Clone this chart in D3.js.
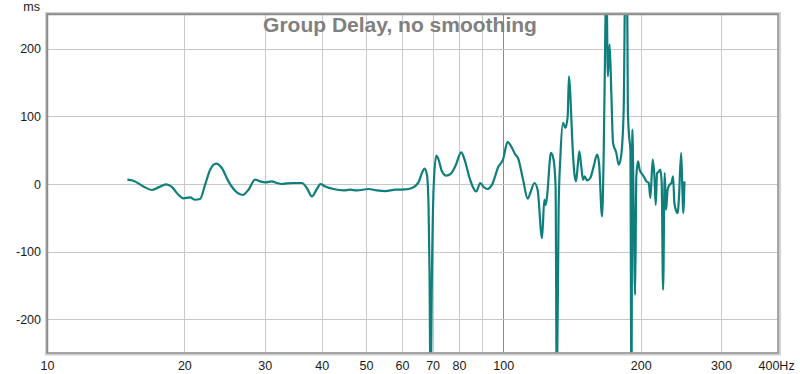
<!DOCTYPE html>
<html>
<head>
    <meta charset="utf-8">
    <title>Group Delay</title>
    <script src="https://d3js.org/d3.v7.min.js"></script>
    <style>
        body { margin: 0; background: #fff; }
        svg text { font-family: "Liberation Sans", Arial, sans-serif; }
        .axis text { font-size: 12.5px; fill: #1a1a1a; }
        .grid line { stroke: #c8c8c8; stroke-width: 1; }
    </style>
</head>
<body>
    <script>
        // frequency (Hz) and group delay (ms)
        var freqHz = [
            15.0, 15.46, 16.26, 16.97, 17.54, 18.24, 18.77, 19.41, 19.90, 20.59,
            21.11, 21.65, 22.21, 22.78, 23.48, 24.16, 24.98, 26.07, 26.87, 27.64,
            28.58, 29.31, 30.06, 31.10, 31.90, 32.71, 33.55, 34.68, 36.19, 37.11,
            38.06, 39.03, 39.76, 40.71, 42.45, 44.65, 46.18, 47.79, 50.65, 52.85,
            55.11, 57.96, 60.97, 63.06, 65.20, 66.33, 67.21, 68.03, 68.58, 68.93,
            69.27, 69.77, 70.33, 71.30, 72.13, 73.37, 74.99, 76.79, 78.48, 80.89,
            82.25, 84.35, 87.26, 89.04, 90.54, 92.37, 94.46, 97.65, 99.85, 102.2,
            104.5, 106.3, 107.7, 110.5, 113.1, 114.6, 117.0, 118.9, 121.6, 123.0,
            123.8, 124.7, 127.2, 128.9, 130.2, 131.0, 132.2, 133.4, 135.2, 136.8,
            138.4, 139.3, 140.3, 141.5, 143.1, 144.3, 145.8, 146.8, 148.2, 149.5,
            150.8, 152.6, 155.1, 157.8, 160.5, 162.1, 164.6, 165.9, 167.4, 168.2,
            169.5, 171.0, 172.5, 174.0, 176.9, 179.0, 181.2, 183.6, 185.2, 186.7,
            187.5, 188.7, 189.9, 190.9, 191.8, 193.1, 194.5, 195.7, 197.4, 199.0,
            200.7, 203.1, 205.9, 208.3, 210.1, 212.5, 214.4, 215.8, 217.3, 219.0,
            220.9, 222.4, 224.0, 225.8, 227.4, 229.2, 231.6, 233.6, 235.6, 237.1,
            239.6, 241.2, 242.4, 245.4, 247.0, 247.9, 249.5
        ];
        var delayMs = [
            6.4, 4.9, -3.6, -8.9, -5.0, -0.6, -4.4, -15.9, -21.3, -19.9,
            -23.3, -22.2, -1.0, 21.2, 30.1, 23.7, 3.9, -12.4, -16.3, -8.4,
            6.4, 3.9, 2.4, 3.9, 1.5, 0.0, 0.9, 1.5, 1.5, -5.9,
            -18.4, -7.4, -0.3, -3.6, -7.4, -9.5, -8.4, -9.5, -7.4, -9.5,
            -10.4, -8.4, -8.0, -5.9, 2.4, 16.3, 22.7, 13.8, -33.2, -131.9,
            -320, -131.4, -8.4, 41.9, 36.0, 18.7, 12.3, 15.3, 26.1, 46.8,
            36.0, 8.9, -11.0, 1.5, -4.4, -7.4, -1.0, 26.1, 36.0, 62.2,
            53.3, 43.4, 38.5, 6.4, -21.8, -13.3, 1.5, -8.4, -80.0, -23.3,
            -31.1, -18.4, 45.9, 36.0, -3.6, -320, -38.1, 40.9, 90.4, 83.0,
            100.1, 159.4, 129.8, 70.5, 16.3, 3.9, 31.1, 48.3, 26.1, 6.4,
            11.3, 5.3, 8.9, 26.1, 43.4, 31.1, -48.0, 36.0, 233.5, 320,
            159.4, 206.4, 134.8, 60.7, 45.9, 28.6, 40.9, 110.1, 320, 320,
            110.1, 70.5, 50.8, -320, 80.4, -38.1, -164.0, 11.3, 33.5, 21.2,
            16.3, 11.3, 3.9, 1.5, -20.7, 36.0, 11.3, -30.7, 16.3, 17.8,
            21.2, 1.5, -156.6, 16.3, -38.1, -8.4, -1.0, 1.5, 11.3, -28.1,
            -40.6, -43.0, -25.8, 45.9, -13.3, -43.0, 3.9
        ];
        var xTickValues = [10, 20, 30, 40, 50, 60, 70, 80, 100, 200, 300, 400];
        var xGridValues = [20, 30, 40, 50, 60, 70, 80, 90, 200, 300];
        var yTickValues = [-200, -100, 0, 100, 200];

        var width = 800, height = 374;
        var plotLeft = 47, plotRight = 778, plotTop = 14, plotBottom = 353;

        var svg = d3.select("body").append("svg")
            .attr("width", width)
            .attr("height", height);

        var x = d3.scaleLog().domain([10, 400]).range([plotLeft, plotRight]);
        var y = d3.scaleLinear().domain([-250, 250]).range([plotBottom, plotTop + 1]);

        svg.append("defs").append("clipPath")
            .attr("id", "plot-clip")
            .append("rect")
            .attr("x", plotLeft).attr("y", plotTop)
            .attr("width", plotRight - plotLeft).attr("height", plotBottom - plotTop);

        // grid
        var grid = svg.append("g").attr("class", "grid");
        grid.selectAll("line.v")
            .data(xGridValues)
            .enter().append("line")
            .attr("class", "v")
            .attr("x1", function(d) { return Math.round(x(d)) + 0.5; })
            .attr("x2", function(d) { return Math.round(x(d)) + 0.5; })
            .attr("y1", plotTop).attr("y2", plotBottom);
        grid.append("line")
            .attr("x1", Math.round(x(100)) + 0.5).attr("x2", Math.round(x(100)) + 0.5)
            .attr("y1", plotTop).attr("y2", plotBottom)
            .style("stroke", "#8a8a8a");
        grid.selectAll("line.h")
            .data(yTickValues)
            .enter().append("line")
            .attr("class", "h")
            .attr("x1", plotLeft).attr("x2", plotRight)
            .attr("y1", function(d) { return Math.round(y(d)) + 0.5; })
            .attr("y2", function(d) { return Math.round(y(d)) + 0.5; });

        // curve
        var line = d3.line()
            .x(function(d, i) { return x(freqHz[i]); })
            .y(function(d) { return y(d); })
            .curve(d3.curveMonotoneX);

        svg.append("path")
            .datum(delayMs)
            .attr("clip-path", "url(#plot-clip)")
            .attr("fill", "none")
            .attr("stroke", "#0f7f7d")
            .attr("stroke-width", 2.2)
            .attr("stroke-linejoin", "round")
            .attr("d", line);

        // frame (light outer shadow, darker inner edge)
        svg.append("rect")
            .attr("x", plotLeft - 0.5).attr("y", plotTop - 0.5)
            .attr("width", plotRight - plotLeft + 2).attr("height", plotBottom - plotTop + 1.5)
            .attr("fill", "none")
            .attr("stroke", "#d0d0d0")
            .attr("stroke-width", 3);
        svg.append("rect")
            .attr("x", plotLeft).attr("y", plotTop)
            .attr("width", plotRight - plotLeft).attr("height", plotBottom - plotTop)
            .attr("fill", "none")
            .attr("stroke", "#959595")
            .attr("stroke-width", 1.6);
        svg.append("path")
            .attr("d", "M" + (plotLeft + 0.5) + "," + plotBottom + "V" + (plotTop + 0.5) + "H" + plotRight)
            .attr("fill", "none")
            .attr("stroke", "#8c8c8c")
            .attr("stroke-width", 1.5);

        // axes
        var yAxis = d3.axisLeft(y)
            .tickValues(yTickValues)
            .tickSize(0)
            .tickPadding(6)
            .tickFormat(function(d) { return String(d); });
        svg.append("g")
            .attr("class", "axis")
            .attr("transform", "translate(" + plotLeft + ",0)")
            .call(yAxis)
            .call(function(g) { g.select(".domain").remove(); });

        var xAxis = d3.axisBottom(x)
            .tickValues(xTickValues)
            .tickSize(0)
            .tickPadding(8)
            .tickFormat(function(d) { return d === 400 ? "400Hz" : String(d); });
        svg.append("g")
            .attr("class", "axis")
            .attr("transform", "translate(0," + plotBottom + ")")
            .call(xAxis)
            .call(function(g) {
                g.select(".domain").remove();
                g.selectAll(".tick text")
                    .filter(function(d) { return d === 400; })
                    .attr("text-anchor", "start")
                    .attr("dx", -20);
            });

        svg.append("text")
            .attr("x", 40).attr("y", 11)
            .attr("text-anchor", "end")
            .style("font-size", "12.5px")
            .style("fill", "#1a1a1a")
            .text("ms");

        svg.append("text")
            .attr("x", 400).attr("y", 32)
            .attr("text-anchor", "middle")
            .style("font-size", "21px")
            .style("font-weight", "bold")
            .style("fill", "#808080")
            .text("Group Delay, no smoothing");
    </script>
</body>
</html>
